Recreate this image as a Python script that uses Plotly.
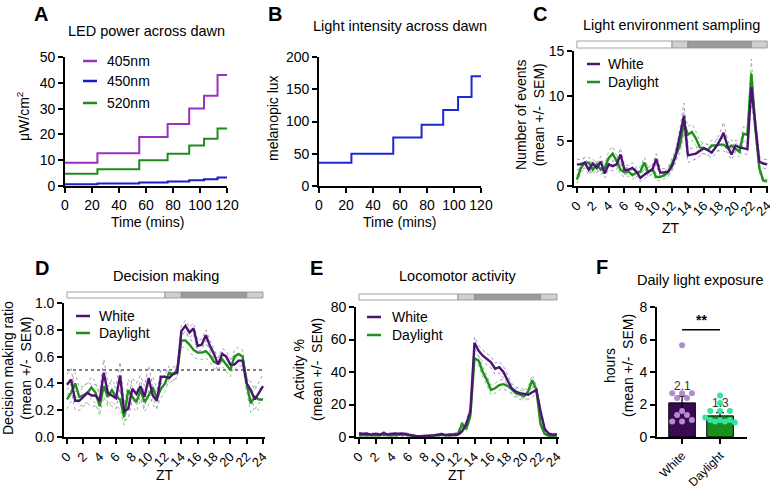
import numpy as np
import plotly.graph_objects as go

W, H = 770, 486
FONT = "Arial, 'Liberation Sans', sans-serif"

# ---------------- DATA ----------------
# Panel A: LED power across dawn (step changes)
dawn_time = [0, 24, 55, 76, 92, 103, 113, 120]
led_405 = [9.0, 12.7, 19.0, 24.0, 30.0, 35.0, 43.0, 43.0]
led_450 = [0.7, 1.0, 1.4, 1.7, 2.2, 2.6, 3.3, 3.3]
led_520 = [4.7, 6.5, 10.0, 12.5, 15.7, 18.3, 22.3, 22.3]
led_names = ["405nm", "450nm", "520nm"]

# Panel B: melanopic lux across dawn
mel_lux = [36, 50, 75, 95, 118, 138, 170, 170]

# ZT sampling (every 0.5 h)
zt = np.arange(0, 24.5, 0.5)
zt_ticks = list(range(0, 25, 2))
group_names = ["White", "Daylight"]

# Light schedule bar (start, end) : light, dawn, dark, dusk
light_phases = [(0, 12), (12, 14), (14, 22), (22, 24)]

# Panel C: light environment sampling (events)
c_white = [2.4, 2.4, 2.6, 1.8, 2.5, 2.0, 2.7, 1.4, 2.4, 2.2,
           2.4, 3.5, 1.8, 1.8, 2.0, 1.6, 0.9, 1.3, 1.6, 1.8,
           3.0, 1.5, 1.5, 1.6, 2.2, 3.5, 5.5, 7.8, 3.4, 3.5,
           3.6, 3.9, 4.2, 4.0, 3.7, 4.3, 5.0, 5.9, 4.4, 3.5,
           4.5, 4.3, 4.2, 4.1, 11.0, 6.8, 2.7, 2.5, 2.4]
c_white_sem = [0.6, 0.5, 0.6, 0.6, 0.5, 0.5, 0.6, 0.5, 0.6, 0.5,
               0.6, 0.7, 0.5, 0.5, 0.6, 0.5, 0.4, 0.5, 0.5, 0.5,
               0.6, 0.5, 0.4, 0.5, 0.5, 0.7, 0.9, 1.4, 0.8, 0.7,
               0.6, 0.6, 0.6, 0.6, 0.6, 0.7, 0.8, 1.2, 0.7, 0.6,
               0.6, 0.6, 0.6, 0.6, 1.6, 1.0, 0.6, 0.5, 0.5]
c_day = [0.7, 2.0, 2.6, 2.6, 1.8, 2.4, 1.8, 2.0, 3.1, 3.6,
         2.8, 1.8, 1.5, 1.6, 1.2, 1.5, 1.6, 2.6, 1.5, 1.9,
         1.0, 1.0, 1.2, 1.5, 2.5, 3.5, 4.5, 7.0, 5.7, 6.0,
         5.3, 4.3, 4.2, 4.0, 4.5, 4.5, 4.6, 4.6, 4.2, 4.5,
         4.2, 3.8, 5.8, 5.7, 12.5, 6.5, 2.0, 0.6, 0.6]
c_day_sem = [0.4, 0.6, 0.6, 0.6, 0.5, 0.5, 0.5, 0.5, 0.7, 0.8,
             0.6, 0.5, 0.5, 0.5, 0.4, 0.5, 0.5, 0.6, 0.5, 0.5,
             0.4, 0.4, 0.4, 0.5, 0.6, 0.7, 0.8, 1.2, 0.9, 0.9,
             0.8, 0.7, 0.6, 0.6, 0.6, 0.6, 0.7, 0.7, 0.6, 0.6,
             0.6, 0.6, 0.8, 0.8, 1.6, 1.0, 0.5, 0.2, 0.2]

# Panel D: decision making ratio
d_white = [0.39, 0.43, 0.27, 0.27, 0.30, 0.33, 0.31, 0.31, 0.27, 0.48,
           0.33, 0.31, 0.29, 0.46, 0.19, 0.21, 0.36, 0.32, 0.38, 0.30,
           0.44, 0.31, 0.27, 0.45, 0.45, 0.44, 0.47, 0.48, 0.79, 0.83,
           0.78, 0.81, 0.68, 0.69, 0.76, 0.68, 0.62, 0.54, 0.62, 0.60,
           0.54, 0.54, 0.57, 0.57, 0.40, 0.35, 0.28, 0.33, 0.38]
d_white_sem = [0.08, 0.08, 0.07, 0.07, 0.07, 0.08, 0.08, 0.08, 0.07, 0.10,
               0.08, 0.08, 0.08, 0.10, 0.07, 0.07, 0.08, 0.08, 0.08, 0.08,
               0.09, 0.07, 0.06, 0.05, 0.05, 0.05, 0.04, 0.04, 0.04, 0.04,
               0.04, 0.04, 0.04, 0.04, 0.04, 0.04, 0.04, 0.05, 0.04, 0.04,
               0.04, 0.04, 0.04, 0.04, 0.05, 0.06, 0.07, 0.08, 0.09]
d_day = [0.28, 0.33, 0.40, 0.30, 0.31, 0.33, 0.37, 0.33, 0.23, 0.38,
         0.30, 0.35, 0.30, 0.28, 0.15, 0.35, 0.30, 0.26, 0.35, 0.26,
         0.31, 0.37, 0.29, 0.36, 0.40, 0.48, 0.47, 0.50, 0.72, 0.72,
         0.69, 0.65, 0.63, 0.63, 0.64, 0.61, 0.56, 0.55, 0.58, 0.54,
         0.50, 0.60, 0.62, 0.60, 0.40, 0.25, 0.30, 0.28, 0.28]
d_day_sem = [0.07, 0.07, 0.08, 0.07, 0.07, 0.07, 0.08, 0.08, 0.07, 0.08,
             0.07, 0.08, 0.07, 0.07, 0.06, 0.08, 0.07, 0.07, 0.07, 0.07,
             0.07, 0.08, 0.07, 0.07, 0.06, 0.05, 0.05, 0.04, 0.05, 0.05,
             0.05, 0.05, 0.05, 0.05, 0.05, 0.05, 0.05, 0.05, 0.05, 0.05,
             0.05, 0.05, 0.05, 0.05, 0.06, 0.07, 0.08, 0.08, 0.08]
d_chance = 0.5

# Panel E: locomotor activity %
e_white = [2.0, 2.0, 2.0, 1.5, 2.0, 1.5, 2.5, 1.5, 2.0, 2.0,
           2.0, 2.0, 1.5, 1.0, 0.5, 0.5, 0.5, 0.8, 1.0, 1.2,
           1.8, 1.0, 1.0, 1.2, 1.5, 3.5, 8.0, 16.0, 58.0, 53.0,
           50.0, 48.0, 46.0, 42.0, 43.0, 40.0, 35.0, 30.0, 28.0, 27.0,
           26.5, 26.0, 27.5, 29.0, 16.0, 5.0, 2.0, 1.5, 1.5]
e_white_sem = [0.8, 0.8, 0.8, 0.7, 0.8, 0.7, 0.9, 0.7, 0.8, 0.8,
               0.8, 0.8, 0.7, 0.5, 0.3, 0.3, 0.3, 0.4, 0.5, 0.5,
               0.7, 0.5, 0.5, 0.6, 0.8, 1.2, 2.0, 2.5, 3.5, 3.5,
               3.5, 3.5, 3.5, 3.5, 3.5, 3.5, 3.0, 3.0, 2.8, 2.8,
               2.8, 2.8, 2.8, 2.5, 1.5, 0.8, 0.6, 0.5, 0.5]
e_day = [1.0, 1.0, 1.2, 1.0, 1.0, 1.0, 1.5, 1.0, 1.2, 1.0,
         1.5, 1.5, 1.0, 0.6, 0.5, 0.5, 0.5, 0.8, 0.8, 1.0,
         1.2, 1.0, 1.5, 1.5, 2.0, 8.0, 5.0, 13.0, 48.5, 47.0,
         40.0, 35.0, 29.0, 30.0, 32.0, 32.5, 31.5, 29.5, 27.0, 26.0,
         25.0, 28.0, 35.0, 29.0, 8.0, 2.0, 0.8, 0.6, 1.0]
e_day_sem = [0.5, 0.5, 0.5, 0.5, 0.5, 0.5, 0.6, 0.5, 0.5, 0.5,
             0.6, 0.6, 0.5, 0.3, 0.2, 0.2, 0.2, 0.3, 0.3, 0.4,
             0.5, 0.4, 0.6, 0.6, 0.8, 2.0, 1.5, 2.5, 3.0, 3.0,
             3.0, 3.0, 3.0, 3.0, 3.0, 3.0, 3.0, 3.0, 2.8, 2.8,
             2.8, 3.0, 3.0, 2.8, 1.5, 0.6, 0.4, 0.3, 0.4]

# Panel F: daily light exposure (hours)
f_means = [2.1, 1.3]
f_sems = [0.42, 0.2]
f_white_pts = [5.65, 2.7, 2.7, 2.7, 2.4, 2.4, 1.6, 1.35, 1.35, 0.95, 0.95, 1.05]
f_day_pts = [2.55, 2.1, 1.6, 1.6, 1.6, 1.05, 0.95, 0.95, 1.05, 1.05, 1.2, 0.9]
f_sig = "**"

# ---------------- STYLE ----------------
C_WHITE = "#4a1470"
C_DAY = "#1f8f1f"
C_WHITE_SEM = "#a680c2"
C_DAY_SEM = "#74c274"
LED_COLORS = ["#9a30c4", "#1c1ccc", "#1f8a1f"]
C_B = "#1c2ad2"
BAR_FILL = ["#3b0b52", "#1b8f1b"]
DOT_COL = ["#b48ad4", "#36e3a2"]
PHASE_COLS = ["#ffffff", "#d0d0d0", "#9c9c9c", "#d0d0d0"]


def X(p):
    return min(max(p / W, 0.0), 1.0)


def Y(p):
    return min(max(1 - p / H, 0.0), 1.0)


def ax(**kw):
    base = dict(showline=True, linecolor="black", linewidth=1.7, ticks="outside",
                ticklen=5, tickwidth=1.5, tickcolor="black", showgrid=False,
                zeroline=False, automargin=False,
                tickfont=dict(size=14, color="black", family=FONT))
    base.update(kw)
    return base


fig = go.Figure()
shapes = []
annotations = []


def ann(x, y, text, size=14, bold=False, angle=0, xanchor="center", yanchor="middle",
        color="black", xref="paper", yref="paper", yshift=0):
    annotations.append(dict(x=x, y=y, xref=xref, yref=yref, text=text, showarrow=False,
                            textangle=angle, xanchor=xanchor, yanchor=yanchor, yshift=yshift,
                            font=dict(size=size, family=FONT, color=color,
                                      weight="bold" if bold else "normal")))


def legend_item(x0, x1, y, color, text, tx, size=14):
    shapes.append(dict(type="line", xref="paper", yref="paper", x0=X(x0), x1=X(x1),
                       y0=Y(y), y1=Y(y), line=dict(color=color, width=2.5)))
    ann(X(tx), Y(y), text, size=size, xanchor="left")


# ---------------- Panel A ----------------
for vals, col in zip([led_405, led_450, led_520], LED_COLORS):
    fig.add_trace(go.Scatter(x=dawn_time, y=vals, mode="lines", line_shape="hv",
                             line=dict(color=col, width=2), xaxis="x", yaxis="y",
                             showlegend=False))
for i, (nm, col) in enumerate(zip(led_names, LED_COLORS)):
    legend_item(83, 97, [61, 81, 103][i], col, nm, 105)

# ---------------- Panel B ----------------
fig.add_trace(go.Scatter(x=dawn_time, y=mel_lux, mode="lines", line_shape="hv",
                         line=dict(color=C_B, width=2), xaxis="x2", yaxis="y2",
                         showlegend=False))


# ---------------- ZT panels ----------------
def zt_panel(xa, ya, w, ws, d, ds):
    for m, s, cs in [(w, ws, C_WHITE_SEM), (d, ds, C_DAY_SEM)]:
        m = np.array(m)
        s = np.array(s)
        for sign in (1, -1):
            fig.add_trace(go.Scatter(x=zt, y=m + sign * s, mode="lines",
                                     line=dict(color=cs, width=0.9, dash="dot"),
                                     xaxis=xa, yaxis=ya, showlegend=False))
    fig.add_trace(go.Scatter(x=zt, y=d, mode="lines", line=dict(color=C_DAY, width=2.4),
                             xaxis=xa, yaxis=ya, showlegend=False))
    fig.add_trace(go.Scatter(x=zt, y=w, mode="lines", line=dict(color=C_WHITE, width=2.4),
                             xaxis=xa, yaxis=ya, showlegend=False))


zt_panel("x3", "y3", c_white, c_white_sem, c_day, c_day_sem)
zt_panel("x4", "y4", d_white, d_white_sem, d_day, d_day_sem)
zt_panel("x5", "y5", e_white, e_white_sem, e_day, e_day_sem)

# chance line in D
shapes.append(dict(type="line", xref="x4", yref="y4", x0=0, x1=24, y0=d_chance, y1=d_chance,
                   line=dict(color="black", width=1.1, dash="dot"), layer="below"))


def light_bar(xref, top, bot):
    for (a, b), col in zip(light_phases, PHASE_COLS):
        shapes.append(dict(type="rect", xref=xref, yref="paper", x0=a, x1=b,
                           y0=Y(bot), y1=Y(top), fillcolor=col,
                           line=dict(color="#8a8a8a", width=0.8)))


light_bar("x3", 41, 48)
light_bar("x4", 292, 298)
light_bar("x5", 294, 300)

for i, (nm, col) in enumerate(zip(group_names, [C_WHITE, C_DAY])):
    legend_item(587, 600, [64, 82][i], col, nm, 606)
    legend_item(76, 90, [316, 333][i], col, nm, 97)
    legend_item(367, 381, [317, 335][i], col, nm, 390)


# ---------------- Panel F ----------------
def swarm(vals, step=0.13, xs=38.0, ys=16.25, d=5.0):
    placed = []
    offs = []
    for v in vals:
        for k in [0, -1, 1, -2, 2, -3, 3, -4, 4, -5, 5]:
            o = k * step
            if all(((o - po) * xs) ** 2 + ((v - pv) * ys) ** 2 >= d * d for po, pv in placed):
                break
        placed.append((o, v))
        offs.append(o)
    return offs


for i in range(2):
    fig.add_trace(go.Bar(x=[i], y=[f_means[i]], width=0.7, marker=dict(color=BAR_FILL[i],
                         line=dict(color="black", width=1)),
                         error_y=dict(type="data", array=[f_sems[i]], color="black",
                                      thickness=1.2, width=4),
                         xaxis="x6", yaxis="y6", showlegend=False))
for i, pts in enumerate([f_white_pts, f_day_pts]):
    offs = swarm(pts)
    fig.add_trace(go.Scatter(x=[i + o for o in offs], y=pts, mode="markers",
                             marker=dict(color=DOT_COL[i], size=6),
                             xaxis="x6", yaxis="y6", showlegend=False))
    ann(i, f_means[i] + f_sems[i], f"{f_means[i]:.1f}", size=12, color="#333333",
        xref="x6", yref="y6", yanchor="bottom", yshift=1)

shapes.append(dict(type="line", xref="x6", yref="y6", x0=0, x1=1, y0=6.6, y1=6.6,
                   line=dict(color="black", width=1.3)))
ann(0.5, 6.6, f_sig, size=14, bold=True, xref="x6", yref="y6", yanchor="bottom", yshift=0)

# ---------------- Titles / labels ----------------
ann(X(41), Y(14), "A", size=20, bold=True)
ann(X(275), Y(14), "B", size=20, bold=True)
ann(X(540), Y(14), "C", size=20, bold=True)
ann(X(42), Y(268), "D", size=20, bold=True)
ann(X(316), Y(268), "E", size=20, bold=True)
ann(X(602), Y(267), "F", size=20, bold=True)

TS = 14.5
ann(X(146), Y(31), "LED power across dawn", size=TS)
ann(X(400), Y(26), "Light intensity across dawn", size=TS)
ann(X(671), Y(25), "Light environment sampling", size=TS)
ann(X(166), Y(276), "Decision making", size=TS)
ann(X(458), Y(276), "Locomotor activity", size=TS)
ann(X(700), Y(280), "Daily light exposure", size=TS)

ann(X(23), Y(117), "μW/cm<sup>2</sup>", size=14, angle=-90)
ann(X(273), Y(118), "melanopic lux", size=14, angle=-90)
ann(X(530), Y(115), "Number of events<br>(mean +/-&nbsp; SEM)", size=14, angle=-90)
ann(X(17), Y(368), "Decision making ratio<br>(mean +/-&nbsp; SEM)", size=14, angle=-90)
ann(X(308), Y(370), "Activity %<br>(mean +/-&nbsp; SEM)", size=14, angle=-90)
ann(X(619), Y(366), "hours<br>(mean +/-&nbsp; SEM)", size=14, angle=-90)

ann(X(147), Y(222), "Time (mins)", size=14)
ann(X(400), Y(222), "Time (mins)", size=14)
ann(X(671), Y(228), "ZT", size=14)
ann(X(165), Y(475), "ZT", size=14)
ann(X(457), Y(475), "ZT", size=14)

# ---------------- Layout ----------------
zt_axis = dict(tickvals=zt_ticks, tickangle=-45, tickfont=dict(size=13, color="black", family=FONT))
fig.update_layout(
    width=W, height=H, margin=dict(l=0, r=0, t=0, b=0, autoexpand=False),
    paper_bgcolor="white", plot_bgcolor="white", showlegend=False,
    font=dict(family=FONT, color="black"),
    xaxis=ax(domain=[X(65), X(227)], range=[0, 120], tickvals=list(range(0, 121, 20)), anchor="y"),
    yaxis=ax(domain=[Y(186), Y(57)], range=[0, 50], dtick=10, anchor="x"),
    xaxis2=ax(domain=[X(319), X(481)], range=[0, 120], tickvals=list(range(0, 121, 20)), anchor="y2"),
    yaxis2=ax(domain=[Y(186), Y(57)], range=[0, 200], dtick=50, anchor="x2"),
    xaxis3=ax(domain=[X(574), X(768)], range=[-0.367, 24.1], anchor="y3",
              ticklabeloverflow="allow", **zt_axis),
    yaxis3=ax(domain=[Y(186), Y(51)], range=[0, 15], dtick=5, anchor="x3"),
    xaxis4=ax(domain=[X(64), X(265)], range=[-0.367, 24.245], anchor="y4", **zt_axis),
    yaxis4=ax(domain=[Y(437), Y(303)], range=[0, 1], dtick=0.2, tickformat=".1f", anchor="x4"),
    xaxis5=ax(domain=[X(356), X(559)], range=[-0.364, 24.242], anchor="y5", **zt_axis),
    yaxis5=ax(domain=[Y(437), Y(307)], range=[0, 80], dtick=20, anchor="x5"),
    xaxis6=ax(domain=[X(657), X(747)], range=[-0.66, 1.71], tickvals=[0, 1],
              ticktext=group_names, tickangle=-45, anchor="y6",
              tickfont=dict(size=12, color="black", family=FONT)),
    yaxis6=ax(domain=[Y(437), Y(307)], range=[0, 8], dtick=2, anchor="x6"),
    shapes=shapes, annotations=annotations,
)

fig.write_html("out.html")
